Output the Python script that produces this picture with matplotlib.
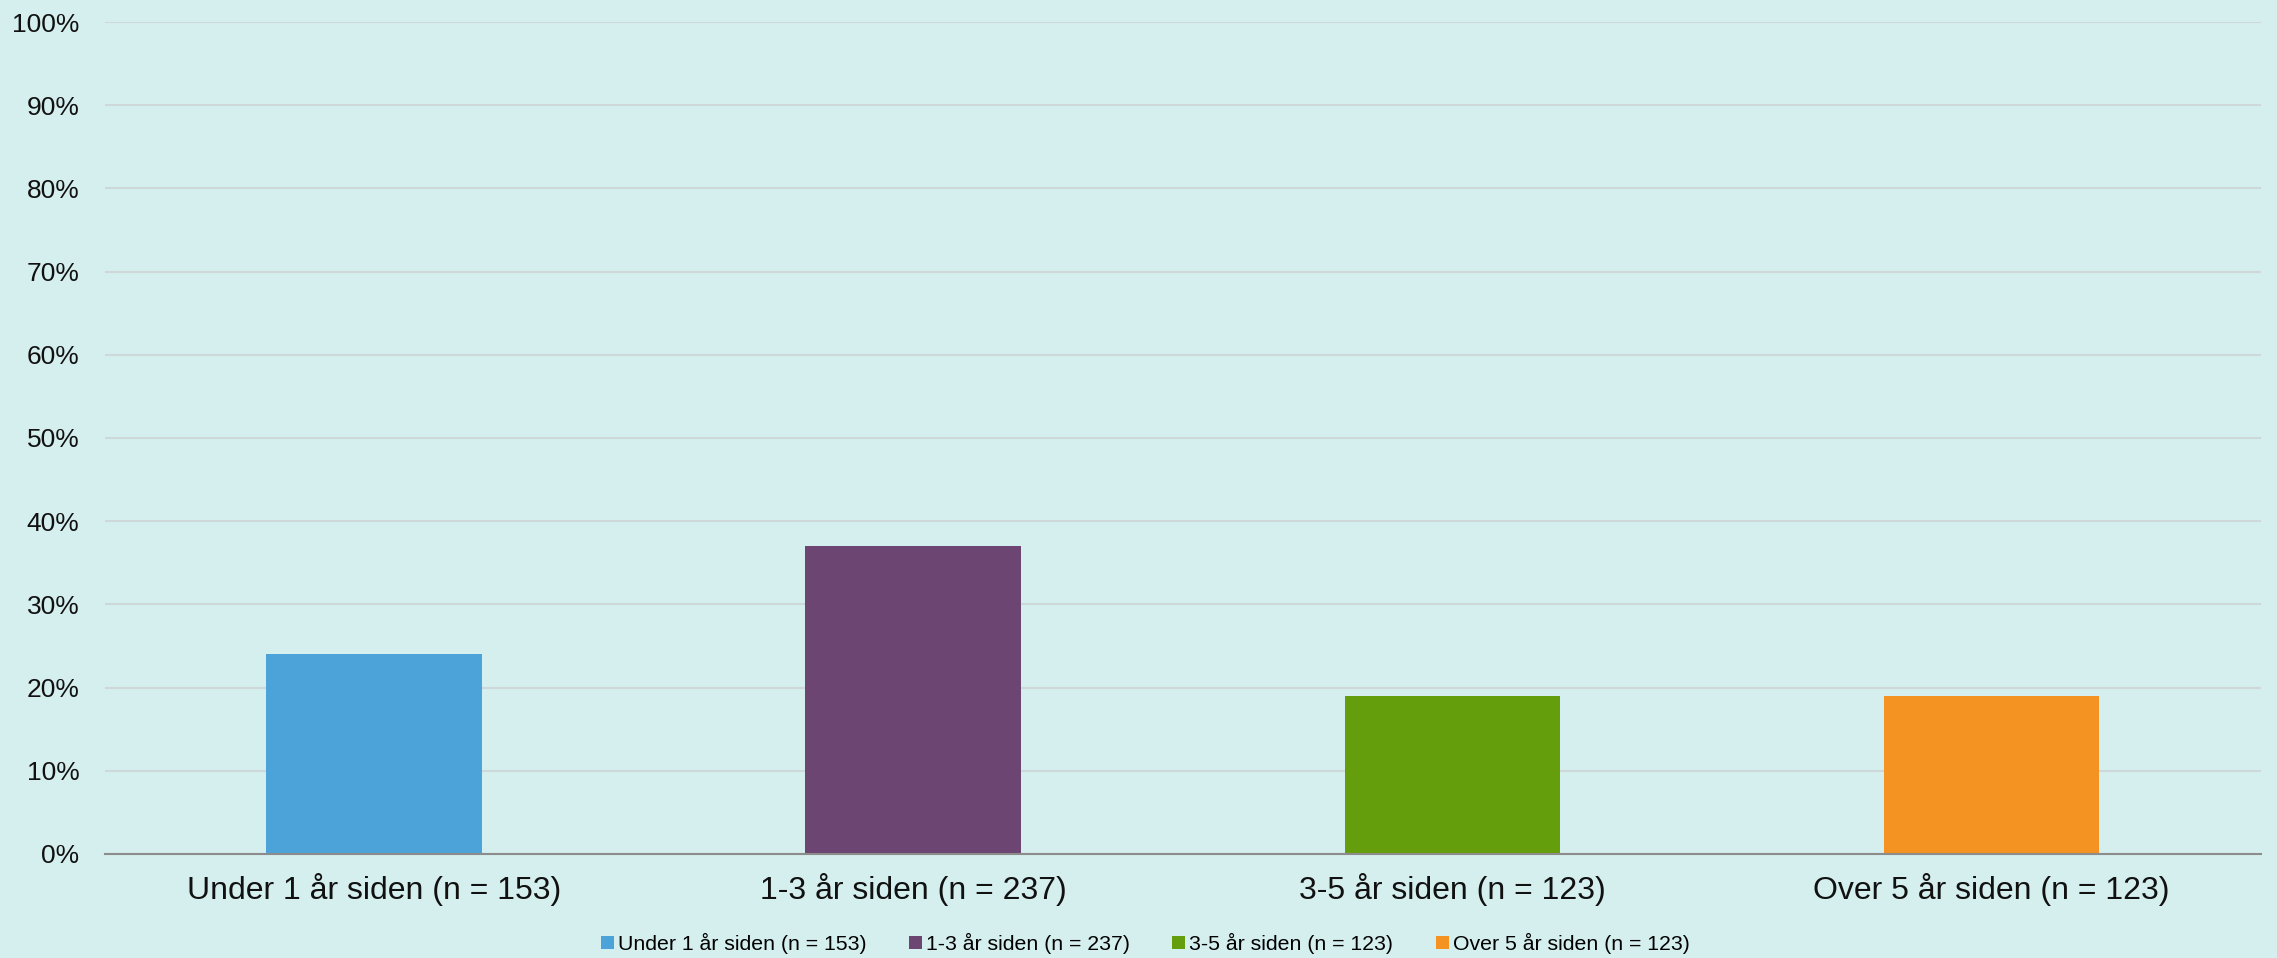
import matplotlib.pyplot as plt
from matplotlib.ticker import PercentFormatter

plt.rcParams['font.family'] = ['Liberation Sans', 'DejaVu Sans']

categories = ["Under 1 år siden (n = 153)", "1-3 år siden (n = 237)",
              "3-5 år siden (n = 123)", "Over 5 år siden (n = 123)"]
values = [24, 37, 19, 19]
colors = ["#4BA3DA", "#6C4572", "#659E0C", "#F49321"]

bg = "#D5EEEE"
fig = plt.figure(figsize=(22.77, 9.58), dpi=100, facecolor=bg)
ax = fig.add_axes([0.0459, 0.1086, 0.9471, 0.8684], facecolor=bg)

x = range(len(categories))
bars = ax.bar(x, values, width=0.4, color=colors, zorder=3, label=categories)

ax.set_xlim(-0.5, len(categories) - 0.5)
ax.set_ylim(0, 100)
ax.set_yticks(range(0, 101, 10))
ax.yaxis.set_major_formatter(PercentFormatter(decimals=0))
ax.set_xticks(list(x))
ax.set_xticklabels(categories)
ax.tick_params(axis='y', length=0, pad=18, labelsize=19, labelcolor="#111111")
ax.tick_params(axis='x', length=0, pad=14, labelsize=23, labelcolor="#111111")
ax.grid(axis='y', color="#CFD8D8", linewidth=1.5, zorder=0)

for s in ['top', 'right', 'left']:
    ax.spines[s].set_visible(False)
ax.spines['bottom'].set_color("#8C8C8C")
ax.spines['bottom'].set_linewidth(1.5)
ax.spines['bottom'].set_zorder(4)

fig.legend(bars, categories, loc='center', bbox_to_anchor=(0.503, 0.015),
           ncol=4, frameon=False, fontsize=15.3, handlelength=0.6,
           handleheight=0.6, handletextpad=0.2, columnspacing=2.0)

fig.savefig("out.png", dpi=100, facecolor=bg)
